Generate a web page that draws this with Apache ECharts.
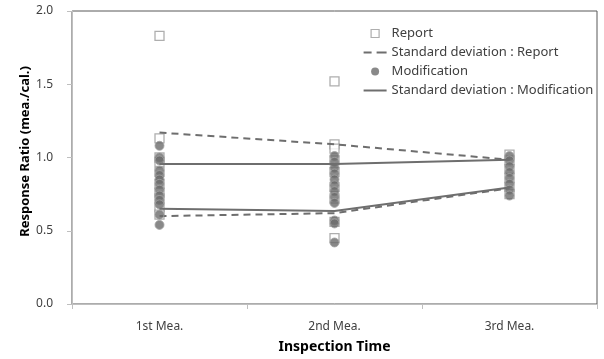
<!DOCTYPE html>
<html>
<head>
<meta charset="utf-8">
<script src="https://cdn.jsdelivr.net/npm/echarts@6/dist/echarts.min.js"></script>
<style>
html,body{margin:0;padding:0;background:#fff;}
#chart{width:604px;height:359px;}
</style>
</head>
<body>
<div id="chart"></div>
<script>
var categories = ['1st Mea.', '2nd Mea.', '3rd Mea.'];
var yTicks = [0, 0.5, 1.0, 1.5, 2.0];

// Report (open squares), per inspection time
var report1 = [1.83, 1.13, 1.00, 0.97, 0.90, 0.82, 0.76, 0.72, 0.66, 0.61];
var report2 = [1.52, 1.09, 1.06, 0.98, 0.90, 0.80, 0.72, 0.56, 0.45];
var report3 = [1.02, 0.98, 0.92, 0.86, 0.80, 0.75];

// Modification (filled circles), per inspection time
var mod1 = [1.08, 1.00, 0.98, 0.91, 0.88, 0.85, 0.82, 0.78, 0.74, 0.71, 0.68, 0.61, 0.54];
var mod2 = [1.01, 0.97, 0.93, 0.89, 0.85, 0.81, 0.77, 0.73, 0.69, 0.57, 0.55, 0.42];
var mod3 = [1.01, 0.98, 0.94, 0.90, 0.86, 0.82, 0.78, 0.74];

// Standard deviation bounds
var sdReportUpper = [1.17, 1.09, 0.985];
var sdReportLower = [0.60, 0.62, 0.79];
var sdModUpper = [0.955, 0.955, 0.985];
var sdModLower = [0.65, 0.635, 0.795];

function toPairs(groups) {
  var out = [];
  groups.forEach(function (g, i) {
    g.forEach(function (v) { out.push([i, v]); });
  });
  return out;
}

var FONT = '"Noto Sans", "Open Sans", sans-serif';
var lineColor = '#6e6e6e';

// legend icons (bbox padded to the full 23x10 icon box with degenerate points)
var PAD = 'M0,0L0,0M23,0L23,0M0,10L0,10M23,10L23,10';
var iconSquare = 'path://' + PAD + 'M7.5,1h8v8h-8z';
var iconDash = 'path://' + PAD + 'M0,4h8v2h-8zM13,4h10v2h-10z';
var iconSolid = 'path://' + PAD + 'M0,4h23v2h-23z';
var iconCircle = 'path://' + PAD + 'M15.5,5A4,4,0,1,1,7.5,5A4,4,0,1,1,15.5,5z';

var chart = echarts.init(document.getElementById('chart'), null, {renderer: 'canvas'});
chart.setOption({
  animation: false,
  backgroundColor: '#ffffff',
  grid: {
    left: 72, right: 7, top: 11, bottom: 50,
    show: true, borderColor: '#595959', borderWidth: 1, backgroundColor: 'transparent'
  },
  legend: {
    orient: 'vertical',
    left: 358,
    top: 22,
    itemWidth: 23,
    itemHeight: 10,
    itemGap: 6,
    textStyle: {fontFamily: FONT, fontSize: 13, color: '#404040'},
    data: [
      {name: 'Report', icon: iconSquare, itemStyle: {color: '#ffffff', borderColor: '#9a9a9a', borderWidth: 1.2}},
      {name: 'Standard deviation : Report', icon: iconDash, itemStyle: {color: lineColor, borderWidth: 0}, lineStyle: {width: 0, opacity: 0}},
      {name: 'Modification', icon: iconCircle, itemStyle: {color: '#6b6b6b', borderWidth: 0}},
      {name: 'Standard deviation : Modification', icon: iconSolid, itemStyle: {color: lineColor, borderWidth: 0}, lineStyle: {width: 0, opacity: 0}}
    ]
  },
  xAxis: {
    type: 'category',
    data: categories,
    boundaryGap: true,
    axisLine: {show: true, lineStyle: {color: '#bfbfbf', width: 1}},
    axisTick: {show: true, length: 5, lineStyle: {color: '#bfbfbf'}},
    axisLabel: {fontFamily: FONT, fontSize: 12, color: '#404040', margin: 17},
    name: 'Inspection Time',
    nameLocation: 'middle',
    nameGap: 36,
    nameMoveOverlap: false,
    nameTextStyle: {fontFamily: FONT, fontSize: 14, fontWeight: 'bold', color: '#000'}
  },
  yAxis: {
    type: 'value',
    min: yTicks[0],
    max: yTicks[yTicks.length - 1],
    interval: 0.5,
    splitLine: {show: false},
    axisLine: {show: true, lineStyle: {color: '#bfbfbf', width: 1}},
    axisTick: {show: true, length: 5, lineStyle: {color: '#bfbfbf'}},
    axisLabel: {
      fontFamily: FONT, fontSize: 12, color: '#404040', margin: 19,
      formatter: function (v) { return v.toFixed(1); }
    },
    name: 'Response Ratio (mea./cal.)',
    nameLocation: 'middle',
    nameGap: 40,
    nameMoveOverlap: false,
    nameTextStyle: {fontFamily: FONT, fontSize: 13, fontWeight: 'bold', color: '#000', padding: [0, 0, 0, 12]}
  },
  series: [
    {
      name: 'Report', type: 'scatter', symbol: 'rect', symbolSize: 9,
      itemStyle: {color: '#ffffff', borderColor: '#9a9a9a', borderWidth: 1.3},
      data: toPairs([report1, report2, report3]), z: 2
    },
    {
      name: 'Standard deviation : Report', type: 'line', symbol: 'none',
      lineStyle: {color: lineColor, width: 2, type: [7, 5]},
      itemStyle: {color: lineColor},
      data: sdReportUpper, z: 3
    },
    {
      name: 'Standard deviation : Report', type: 'line', symbol: 'none',
      lineStyle: {color: lineColor, width: 2, type: [7, 5]},
      itemStyle: {color: lineColor},
      data: sdReportLower, z: 3
    },
    {
      name: 'Modification', type: 'scatter', symbol: 'circle', symbolSize: 9,
      itemStyle: {color: '#6b6b6b', borderColor: '#a3a3a3', borderWidth: 1},
      data: toPairs([mod1, mod2, mod3]), z: 4
    },
    {
      name: 'Standard deviation : Modification', type: 'line', symbol: 'none',
      lineStyle: {color: lineColor, width: 2},
      itemStyle: {color: lineColor},
      data: sdModUpper, z: 5
    },
    {
      name: 'Standard deviation : Modification', type: 'line', symbol: 'none',
      lineStyle: {color: lineColor, width: 2},
      itemStyle: {color: lineColor},
      data: sdModLower, z: 5
    }
  ]
});
</script>
</body>
</html>
